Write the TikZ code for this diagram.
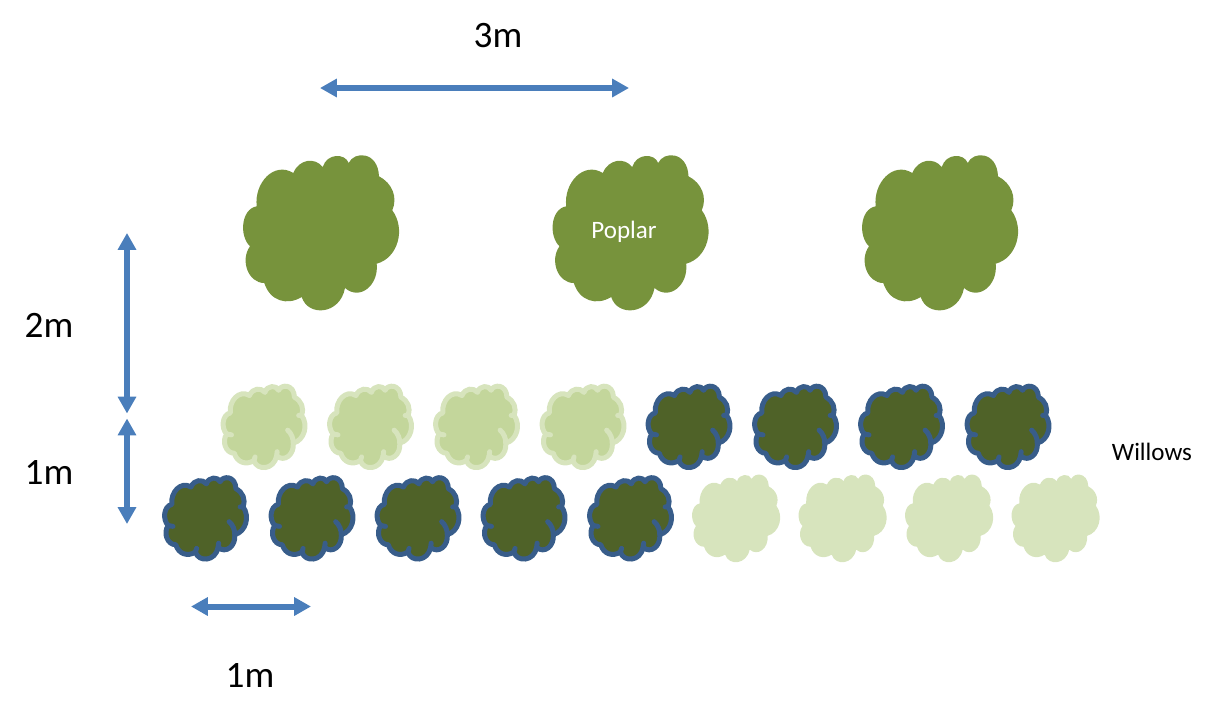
\documentclass[tikz,border=0pt]{standalone}
\usepackage{fontspec}
\setmainfont{Carlito}
\usetikzlibrary{arrows.meta}
\definecolor{poplargreen}{HTML}{77933C}
\definecolor{darkwillow}{HTML}{4F6228}
\definecolor{midwillow}{HTML}{C3D69B}
\definecolor{palewillow}{HTML}{D7E4BD}
\definecolor{willowline}{HTML}{385D8A}
\definecolor{dimblue}{HTML}{4A7EBB}
\tikzset{
    treeshape/.pic={
        \path[pic actions] (-63.3,-26.7)
            .. controls (-66,-50) and (-46,-72) .. (-26.7,-60)
            .. controls (-21,-74) and (-5,-76) .. (2.7,-66)
            .. controls (7,-80) and (25,-80) .. (28.7,-70)
            .. controls (34,-82) and (58,-82) .. (59,-56.7)
            .. controls (72,-50) and (78,-36) .. (72.3,-22.7)
            .. controls (86,-4) and (78,25) .. (56.7,30.7)
            .. controls (59,52) and (40,68) .. (25,55)
            .. controls (20,82) and (-12,84) .. (-18.3,64)
            .. controls (-33,73) and (-50,68) .. (-55.7,50)
            .. controls (-72,50) and (-80,27) .. (-70,13.3)
            .. controls (-81,3) and (-79,-24) .. (-63.3,-26.7) -- cycle;
    },
    treecurl/.pic={
        \path[pic actions] (46,6) .. controls (53,12) and (57,22) .. (56.7,30.7);
        \path[pic actions] (-70,13.3) -- (-61,15);
        \path[pic actions] (25,55) -- (26,47);
        \path[pic actions] (-18.3,64) -- (-16,57);
        \path[pic actions] (72.3,-22.7) -- (67,-22);
    },
    poplar/.style={fill=poplargreen,scale=1},
    palewil/.style={fill=palewillow,scale=.565},
    midwil/.style={fill=midwillow,draw=palewillow,line width=.125cm,line join=round,scale=.525},
    darkwil/.style={fill=darkwillow,draw=willowline,line width=.125cm,line join=round,scale=.525},
    midcurl/.style={draw=palewillow,line width=.125cm,line cap=round,scale=.525},
    darkcurl/.style={draw=willowline,line width=.125cm,line cap=round,scale=.525},
    dimline/.style={dimblue,line width=.15cm,{Triangle[length=.42cm,width=.44cm]}-{Triangle[length=.42cm,width=.44cm]}},
    bigtext/.style={font=\fontsize{26.5}{30}\selectfont,inner sep=0pt},
    smalltext/.style={font=\fontsize{17.8}{21}\selectfont,inner sep=0pt}
}
\begin{document}
\begin{tikzpicture}[x=0.025cm,y=-0.025cm]
    \useasboundingbox (0,0) rectangle (1208,718);
    % poplars
    \foreach \px in {320,629.5,939}
        \pic[poplar] at (\px,233) {treeshape};
    % upper willows
    \foreach \wx in {263.5,370,476,582.5} {
        \pic[midwil] at (\wx,427) {treeshape};
        \pic[midcurl] at (\wx,427) {treecurl};
    }
    \foreach \wx in {688.5,795,901,1007.5} {
        \pic[darkwil] at (\wx,427) {treeshape};
        \pic[darkcurl] at (\wx,427) {treecurl};
    }
    % lower willows
    \foreach \wx in {205,311.5,417.5,523.5,630} {
        \pic[darkwil] at (\wx,518.5) {treeshape};
        \pic[darkcurl] at (\wx,518.5) {treecurl};
    }
    \foreach \wx in {735.5,842,948.5,1055}
        \pic[palewil] at (\wx,518.5) {treeshape};
    % distances
    \coordinate (spanleft) at (320,88);
    \coordinate (spanright) at (629,88);
    \coordinate (rowtop) at (127,233);
    \coordinate (rowmid) at (127,413.5);
    \coordinate (lowtop) at (127,418.5);
    \coordinate (lowbot) at (127,524);
    \coordinate (gapleft) at (191,606.5);
    \coordinate (gapright) at (311,606.5);
    \draw[dimline] (spanleft) -- (spanright);
    \draw[dimline] (rowtop) -- (rowmid);
    \draw[dimline] (lowtop) -- (lowbot);
    \draw[dimline] (gapleft) -- (gapright);
    \node[bigtext] (threem) at (498,36) {3m};
    \node[bigtext] (twom) at (49,325) {2m};
    \node[bigtext] (onemleft) at (49,472) {1m};
    \node[bigtext] (onemlow) at (250,675) {1m};
    \node[smalltext,white] (poplarname) at (624,232) {Poplar};
    \node[smalltext] (willowname) at (1152,452) {Willows};
\end{tikzpicture}
\end{document}
